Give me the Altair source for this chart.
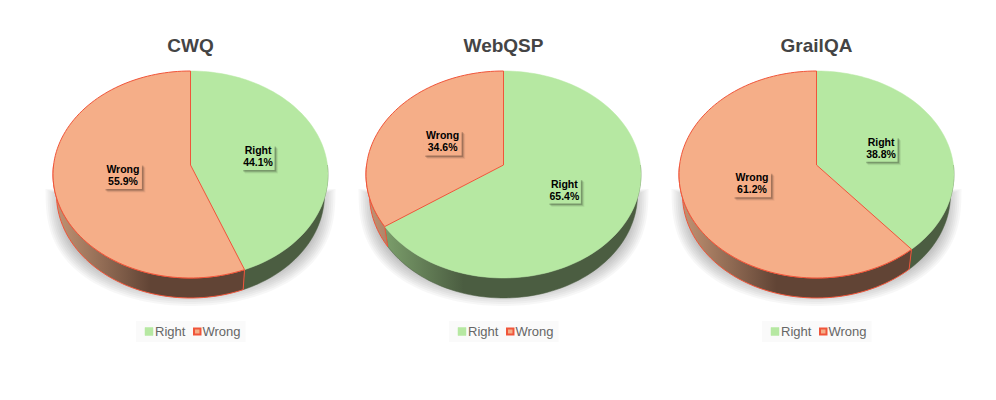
import math
import altair as alt
import pandas as pd

# ---- chart values ----
datasets = ["CWQ", "WebQSP", "GrailQA"]
right_pct = [44.1, 65.4, 38.8]
wrong_pct = [55.9, 34.6, 61.2]
series = ["Right", "Wrong"]

# ---- styling / layout ----
centres = [190.5, 503.5, 816.5]
CY, RX, RY = 174.5, 137.5, 103.5
APEX_Y = 165.0
DEPTH, RX_LOW = 20.0, 134.0
TOP = {"Right": "#b6e8a2", "Wrong": "#f5ae88"}
SIDE = {"Right": ("#86ad75", "#4b5d41"), "Wrong": ("#c49575", "#614435")}
EDGE = "#f0553a"
W, H = 980, 384
XS = alt.Scale(domain=[8, 8 + W])
YS = alt.Scale(domain=[8 + H, 8])


def rim(cx, deg):
    """Point of the tilted pie's rim for a clockwise angle from 12 o'clock."""
    s, c = math.sin(math.radians(deg)), math.cos(math.radians(deg))
    dx, dy = RX * s, -RY * c
    off = APEX_Y - CY
    a = (dx / RX) ** 2 + (dy / RY) ** 2
    b = 2 * dy * off / RY ** 2
    k = off ** 2 / RY ** 2 - 1
    t = (-b + math.sqrt(b * b - 4 * a * k)) / (2 * a)
    return cx + dx * t, APEX_Y + dy * t


def low(cx, p):
    return cx + (p[0] - cx) * RX_LOW / RX, p[1] + DEPTH


def frange(a, b, step=2.0):
    n = max(2, int(abs(b - a) / step) + 1)
    return [a + (b - a) * i / (n - 1) for i in range(n)]


def frame(pts, key=0):
    return [dict(x=p[0], y=p[1], i=i, k=key) for i, p in enumerate(pts)]


def poly(rows, **mk):
    return alt.Chart(pd.DataFrame(rows)).mark_line(**mk).encode(
        x=alt.X("x:Q", scale=XS, axis=None),
        y=alt.Y("y:Q", scale=YS, axis=None),
        detail="k:N",
        order="i:Q",
    )


def mix(c1, c2, t):
    a = [int(c1[j:j + 2], 16) for j in (1, 3, 5)]
    b = [int(c2[j:j + 2], 16) for j in (1, 3, 5)]
    return "#%02x%02x%02x" % tuple(round(u + (v - u) * t) for u, v in zip(a, b))


def side_fill(name, cx, xs):
    light, dark = SIDE[name]
    lo, hi = min(xs), max(xs)
    knee = cx - 40
    shade = lambda x: min(1.0, max(0.0, (x - (cx - RX)) / (RX - 40)))
    stops = [alt.GradientStop(offset=0, color=mix(light, dark, shade(lo)))]
    if lo < knee < hi:
        stops.append(alt.GradientStop(offset=(knee - lo) / (hi - lo), color=dark))
    stops.append(alt.GradientStop(offset=1, color=mix(light, dark, shade(hi))))
    return alt.Gradient(gradient="linear", stops=stops, x1=0, x2=1, y1=0, y2=0)


layers = []

# soft ground shadow
shadow_rows = []
for n, cx in enumerate(centres):
    for r in range(10):
        grow = r * 2.0
        top_y = 198 - r
        bottom_y = 288 + grow
        pts = []
        for d in frange(-90, 90):
            rad = math.radians(d)
            pts.append((cx + (127 + grow) * math.sin(rad),
                        top_y + (bottom_y - top_y) * max(math.cos(rad), 0) ** 0.75))
        pts.append(pts[0])
        shadow_rows += frame(pts, n * 100 + r)
layers.append(poly(shadow_rows, fill="#000000", fillOpacity=0.032, stroke=None, strokeWidth=0))

# side walls and top faces
tops = {"Right": [], "Wrong": []}
labels = []
for n, (name, cx) in enumerate(zip(datasets, centres)):
    split = right_pct[n] * 3.6
    for s, (a, b) in zip(series, [(0, split), (split, 360)]):
        vis = (max(a, 90), min(b, 270))
        if vis[0] < vis[1]:
            arc = [rim(cx, d) for d in frange(*vis)]
            pts = arc + [low(cx, p) for p in reversed(arc)]
            pts.append(pts[0])
            wall = {"fill": side_fill(s, cx, [p[0] for p in pts])}
            if s == "Wrong":
                wall.update(stroke=EDGE, strokeWidth=1)
            else:
                wall.update(stroke=SIDE[s][1], strokeWidth=0.5)
            layers.append(poly(frame(pts), **wall))
        arc = [rim(cx, d) for d in frange(a, b)]
        tops[s] += frame([(cx, APEX_Y)] + arc + [(cx, APEX_Y)], n)
        mid = math.radians((a + b) / 2)
        labels.append(dict(
            series=s,
            pct=f"{(right_pct if s == 'Right' else wrong_pct)[n]:.1f}%",
            cx=cx + 0.5 * RX * math.sin(mid),
            cy=APEX_Y + 2 - 0.5 * RY * math.cos(mid),
            half=19 if s == "Wrong" else 16.5,
        ))

layers.append(poly(tops["Right"], fill=TOP["Right"], stroke=TOP["Right"], strokeWidth=0.5))
layers.append(poly(tops["Wrong"], fill=TOP["Wrong"], stroke=EDGE, strokeWidth=1))

# data labels: boxed with a soft drop shadow
lab = pd.DataFrame(labels)
for off, op in [(3.5, 0.06), (2.5, 0.12), (1.5, 0.2)]:
    d = lab.assign(x1=lab.cx - lab.half + off, x2=lab.cx + lab.half + off,
                   y1=lab.cy - 12.5 + off, y2=lab.cy + 12.5 + off)
    layers.append(alt.Chart(d).mark_rect(color="#000000", opacity=op).encode(
        x=alt.X("x1:Q", scale=XS, axis=None), x2="x2:Q",
        y=alt.Y("y1:Q", scale=YS, axis=None), y2="y2:Q"))
d = lab.assign(x1=lab.cx - lab.half, x2=lab.cx + lab.half, y1=lab.cy - 12.5, y2=lab.cy + 12.5)
layers.append(alt.Chart(d).mark_rect().encode(
    x=alt.X("x1:Q", scale=XS, axis=None), x2="x2:Q",
    y=alt.Y("y1:Q", scale=YS, axis=None), y2="y2:Q",
    color=alt.Color("series:N", scale=alt.Scale(domain=series, range=[TOP[s] for s in series]), legend=None),
))
FONT = "Liberation Sans"
for field, dy in [("series", -6.5), ("pct", 5.5)]:
    layers.append(alt.Chart(lab.assign(ty=lab.cy + dy)).mark_text(
        font=FONT, fontSize=10.5, fontWeight="bold", color="#000000").encode(
        x=alt.X("cx:Q", scale=XS, axis=None),
        y=alt.Y("ty:Q", scale=YS, axis=None),
        text=f"{field}:N"))

# titles
layers.append(alt.Chart(pd.DataFrame({"name": datasets, "cx": centres, "ty": [46] * 3})).mark_text(
    font=FONT, fontSize=19, fontWeight="bold", color="#444444").encode(
    x=alt.X("cx:Q", scale=XS, axis=None), y=alt.Y("ty:Q", scale=YS, axis=None), text="name:N"))

# legends
leg = pd.DataFrame({"x1": [c - 54.5 for c in centres], "x2": [c + 55 for c in centres],
                    "y1": [321] * 3, "y2": [342] * 3})
layers.append(alt.Chart(leg).mark_rect(color="#fafafa").encode(
    x=alt.X("x1:Q", scale=XS, axis=None), x2="x2:Q",
    y=alt.Y("y1:Q", scale=YS, axis=None), y2="y2:Q"))
sw = []
for c in centres:
    sw.append(dict(series="Right", x1=c - 45.5, x2=c - 37.5, tx=c - 35.5))
    sw.append(dict(series="Wrong", x1=c + 3.5, x2=c + 10, tx=c + 12))
sw = pd.DataFrame(sw)
sw["y1"] = [327.5 if s == "Right" else 328.5 for s in sw.series]
sw["y2"] = [335.5 if s == "Right" else 334.5 for s in sw.series]
sw["ty"] = 331.5
for s in series:
    layers.append(alt.Chart(sw[sw.series == s]).mark_rect(
        color=TOP[s], stroke=(EDGE if s == "Wrong" else TOP[s]),
        strokeWidth=(2 if s == "Wrong" else 0.5)).encode(
        x=alt.X("x1:Q", scale=XS, axis=None), x2="x2:Q",
        y=alt.Y("y1:Q", scale=YS, axis=None), y2="y2:Q"))
layers.append(alt.Chart(sw).mark_text(
    font=FONT, fontSize=13, color="#666666", align="left").encode(
    x=alt.X("tx:Q", scale=XS, axis=None), y=alt.Y("ty:Q", scale=YS, axis=None), text="series:N"))

chart = alt.layer(*layers).properties(
    width=W, height=H, padding=0, autosize=alt.AutoSizeParams(type="none")
).configure_view(stroke=None)
chart.save("out.html", embed_options={"renderer": "svg", "actions": False})
